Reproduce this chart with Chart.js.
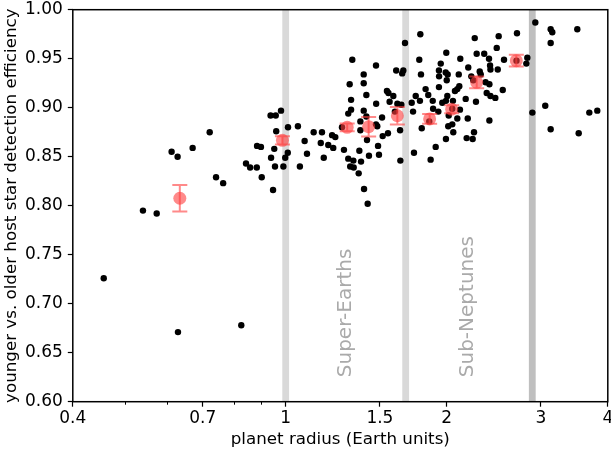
<!DOCTYPE html>
<html lang="en">
  <head>
    <meta charset="utf-8" />
    <title>Detection efficiency vs planet radius</title>
    <script src="https://cdn.jsdelivr.net/npm/chart.js@4.4.1/dist/chart.umd.min.js"></script>
    <style>
      html, body { margin: 0; padding: 0; background: #fff; }
      #wrap { width: 611px; height: 454px; }
    </style>
  </head>
  <body>
    <div id="wrap"><canvas id="chart" width="611" height="454"></canvas></div>
    <script>
      // individual planets (radius in Earth units, efficiency ratio)
      var planetRadius = [
        0.457, 0.541, 0.574, 0.612, 0.628, 0.670, 0.721, 0.741, 0.764, 0.629, 0.826,
        0.980, 0.937, 0.958, 1.010, 1.054, 0.960, 0.884, 0.899, 0.952, 1.009, 0.939,
        0.998, 0.843, 0.858, 0.883, 0.955, 0.990, 1.063, 0.902, 0.947,
        1.332, 1.475, 1.399, 1.317, 1.399, 1.415, 1.325, 1.476, 1.325, 1.309, 1.399,
        1.415, 1.379, 1.379, 1.128, 1.169, 1.221, 1.238, 1.274, 1.085, 1.163, 1.201,
        1.227, 1.419, 1.096, 1.178, 1.285, 1.373, 1.309, 1.338, 1.383, 1.320, 1.340,
        1.369, 1.401, 1.423, 1.431, 1.475, 1.483, 1.488, 1.494,
        1.785, 1.671, 1.996, 1.777, 1.949, 1.609, 1.659, 1.651, 1.790, 1.934, 1.991,
        2.008, 1.935, 2.000, 1.934, 1.546, 1.556, 1.589, 1.826, 1.847, 1.750, 2.005,
        1.564, 1.617, 1.645, 1.720, 1.782, 1.883, 1.886, 1.962, 1.993, 1.730, 1.929,
        1.514, 1.600, 1.855, 2.017, 2.013, 1.636, 1.553, 1.518, 1.796, 1.993, 1.907,
        1.737, 1.866, 1.638,
        2.256, 2.501, 2.706, 2.275, 2.350, 2.399, 2.480, 2.120, 2.559, 2.829, 2.817,
        2.194, 2.410, 2.414, 2.491, 2.106, 2.305, 2.315, 2.223, 2.242, 2.111, 2.093,
        2.072, 2.364, 2.403, 2.545, 2.375, 2.414, 2.465, 2.170, 2.268, 2.054, 2.117,
        2.093, 2.189, 2.403, 2.048, 2.057, 2.249, 2.179, 2.236,
        2.928, 3.128, 3.150, 3.508, 3.128, 3.056, 2.891, 3.694, 3.823, 3.128, 3.529,
        2.048, 2.700
      ];
      var planetEff = [
        0.726, 0.795, 0.792, 0.855, 0.850, 0.859, 0.875, 0.829, 0.823, 0.671, 0.678,
        0.897, 0.892, 0.892, 0.880, 0.881, 0.876, 0.861, 0.860, 0.858, 0.854, 0.849,
        0.849, 0.843, 0.839, 0.839, 0.840, 0.840, 0.840, 0.829, 0.816,
        0.949, 0.943, 0.934, 0.924, 0.925, 0.913, 0.908, 0.904, 0.898, 0.894, 0.897,
        0.891, 0.886, 0.877, 0.875, 0.875, 0.872, 0.870, 0.880, 0.866, 0.864, 0.862,
        0.859, 0.867, 0.853, 0.849, 0.857, 0.856, 0.848, 0.846, 0.845, 0.840, 0.839,
        0.833, 0.817, 0.802, 0.851, 0.883, 0.881, 0.861, 0.852,
        0.975, 0.966, 0.956, 0.949, 0.945, 0.938, 0.938, 0.935, 0.934, 0.938, 0.936,
        0.934, 0.932, 0.928, 0.921, 0.917, 0.915, 0.912, 0.919, 0.913, 0.912, 0.912,
        0.906, 0.904, 0.903, 0.905, 0.907, 0.907, 0.899, 0.905, 0.907, 0.896, 0.896,
        0.890, 0.896, 0.886, 0.892, 0.881, 0.877, 0.874, 0.871, 0.879, 0.868, 0.860,
        0.854, 0.847, 0.846,
        0.971, 0.973, 0.976, 0.955, 0.955, 0.950, 0.961, 0.950, 0.949, 0.951, 0.945,
        0.941, 0.943, 0.939, 0.939, 0.934, 0.937, 0.934, 0.932, 0.928, 0.922, 0.919,
        0.917, 0.926, 0.924, 0.918, 0.915, 0.912, 0.910, 0.909, 0.906, 0.907, 0.898,
        0.889, 0.889, 0.887, 0.883, 0.875, 0.875, 0.869, 0.868,
        0.987, 0.980, 0.977, 0.980, 0.966, 0.902, 0.895, 0.895, 0.897, 0.878, 0.874,
        0.899, 0.948
      ];

      // binned means with errors
      var binRadius = [0.634, 0.986, 1.303, 1.429, 1.617, 1.858, 2.043, 2.275, 2.698];
      var binEff = [0.8076, 0.8667, 0.880, 0.8806, 0.8918, 0.8885, 0.8984, 0.9259, 0.948];
      var binErr = [0.0135, 0.0042, 0.004, 0.010, 0.009, 0.005, 0.004, 0.006, 0.006];

      // vertical lines and region labels
      var bandRadius = [1.0, 1.676, 2.89];
      var bandColors = ["#d9d9d9", "#d9d9d9", "#bfbfbf"];
      var regionNames = ["Super-Earths", "Sub-Neptunes"];
      var regionRadius = [1.296, 2.19];
      var regionEff = 0.625;

      var xMajor = [0.4, 0.7, 1, 1.5, 2, 3, 4];
      var xMinor = [0.5, 0.6, 0.8, 0.9];

      var FONT = "'DejaVu Sans', sans-serif";

      var points = planetRadius.map(function (r, i) {
        return { x: r, y: planetEff[i] };
      });
      var bins = binRadius.map(function (r, i) {
        return { x: r, y: binEff[i] };
      });

      var extras = {
        id: "extras",
        beforeDatasetsDraw: function (chart) {
          var ctx = chart.ctx;
          var xs = chart.scales.x;
          var a = chart.chartArea;
          ctx.save();
          bandRadius.forEach(function (r, i) {
            var px = xs.getPixelForValue(r);
            ctx.fillStyle = bandColors[i];
            ctx.fillRect(px - 3.4, a.top, 6.8, a.bottom - a.top);
          });
          var ys = chart.scales.y;
          ctx.fillStyle = "#aaaaaa";
          ctx.font = "20px " + FONT;
          ctx.textAlign = "left";
          ctx.textBaseline = "middle";
          regionNames.forEach(function (t, i) {
            ctx.save();
            ctx.translate(xs.getPixelForValue(regionRadius[i]), ys.getPixelForValue(regionEff));
            ctx.rotate(-Math.PI / 2);
            ctx.fillText(t, 0, 0);
            ctx.restore();
          });
          ctx.restore();
        },
        afterDatasetsDraw: function (chart) {
          var ctx = chart.ctx;
          var xs = chart.scales.x;
          var ys = chart.scales.y;
          ctx.save();
          ctx.strokeStyle = "rgba(255,60,60,0.6)";
          ctx.lineWidth = 2;
          binRadius.forEach(function (r, i) {
            var px = xs.getPixelForValue(r);
            var y1 = ys.getPixelForValue(binEff[i] + binErr[i]);
            var y2 = ys.getPixelForValue(binEff[i] - binErr[i]);
            ctx.beginPath();
            ctx.moveTo(px, y1);
            ctx.lineTo(px, y2);
            ctx.moveTo(px - 7.5, y1);
            ctx.lineTo(px + 7.5, y1);
            ctx.moveTo(px - 7.5, y2);
            ctx.lineTo(px + 7.5, y2);
            ctx.stroke();
          });
          ctx.restore();
        },
        afterDraw: function (chart) {
          var ctx = chart.ctx;
          var a = chart.chartArea;
          var xs = chart.scales.x;
          ctx.save();
          ctx.strokeStyle = "#000";
          ctx.lineWidth = 1;
          xMinor.forEach(function (v) {
            var px = Math.round(xs.getPixelForValue(v)) + 0.5;
            ctx.beginPath();
            ctx.moveTo(px, a.bottom);
            ctx.lineTo(px, a.bottom + 3);
            ctx.stroke();
          });
          ctx.lineWidth = 1.5;
          ctx.strokeRect(a.left, a.top, a.right - a.left, a.bottom - a.top);
          ctx.restore();
        }
      };

      new Chart(document.getElementById("chart"), {
        type: "scatter",
        data: {
          datasets: [
            {
              data: bins,
              order: 0,
              pointRadius: 6.5,
              pointHoverRadius: 6.5,
              pointBorderWidth: 0,
              backgroundColor: "rgba(255,60,60,0.6)",
              borderColor: "rgba(0,0,0,0)"
            },
            {
              data: points,
              order: 1,
              pointRadius: 3.2,
              pointHoverRadius: 3.2,
              pointBorderWidth: 0,
              backgroundColor: "#000",
              borderColor: "#000"
            }
          ]
        },
        options: {
          responsive: false,
          animation: false,
          events: [],
          layout: { autoPadding: false, padding: { top: 9.7, right: 0, left: 0, bottom: 0 } },
          plugins: { legend: { display: false }, tooltip: { enabled: false } },
          scales: {
            x: {
              type: "logarithmic",
              min: 0.4,
              max: 4,
              afterBuildTicks: function (s) {
                s.ticks = xMajor.map(function (v) { return { value: v }; });
              },
              afterFit: function (s) {
                s.height = 52.3;
                s.paddingLeft = 0;
                s.paddingRight = 3.2;
              },
              ticks: {
                autoSkip: false,
                maxRotation: 0,
                padding: 2,
                color: "#000",
                font: { family: FONT, size: 17 },
                callback: function (v) { return String(v); }
              },
              grid: { drawOnChartArea: false, tickLength: 5, tickColor: "#000", tickWidth: 1.2 },
              border: { display: false },
              title: {
                display: true,
                text: "planet radius (Earth units)",
                color: "#000",
                font: { family: FONT, size: 16.7 },
                padding: { top: 0, bottom: 4 }
              }
            },
            y: {
              min: 0.6,
              max: 1.0,
              afterFit: function (s) {
                s.width = 72.8;
                s.paddingTop = 0;
                s.paddingBottom = 0;
              },
              ticks: {
                stepSize: 0.05,
                padding: 5,
                color: "#000",
                font: { family: FONT, size: 17 },
                callback: function (v) { return v.toFixed(2); }
              },
              grid: { drawOnChartArea: false, tickLength: 5, tickColor: "#000", tickWidth: 1.2 },
              border: { display: false },
              title: {
                display: true,
                text: "younger vs. older host star detection efficiency",
                color: "#000",
                font: { family: FONT, size: 16.7 },
                padding: { top: 2, bottom: 0 }
              }
            }
          }
        },
        plugins: [extras]
      });
    </script>
  </body>
</html>
